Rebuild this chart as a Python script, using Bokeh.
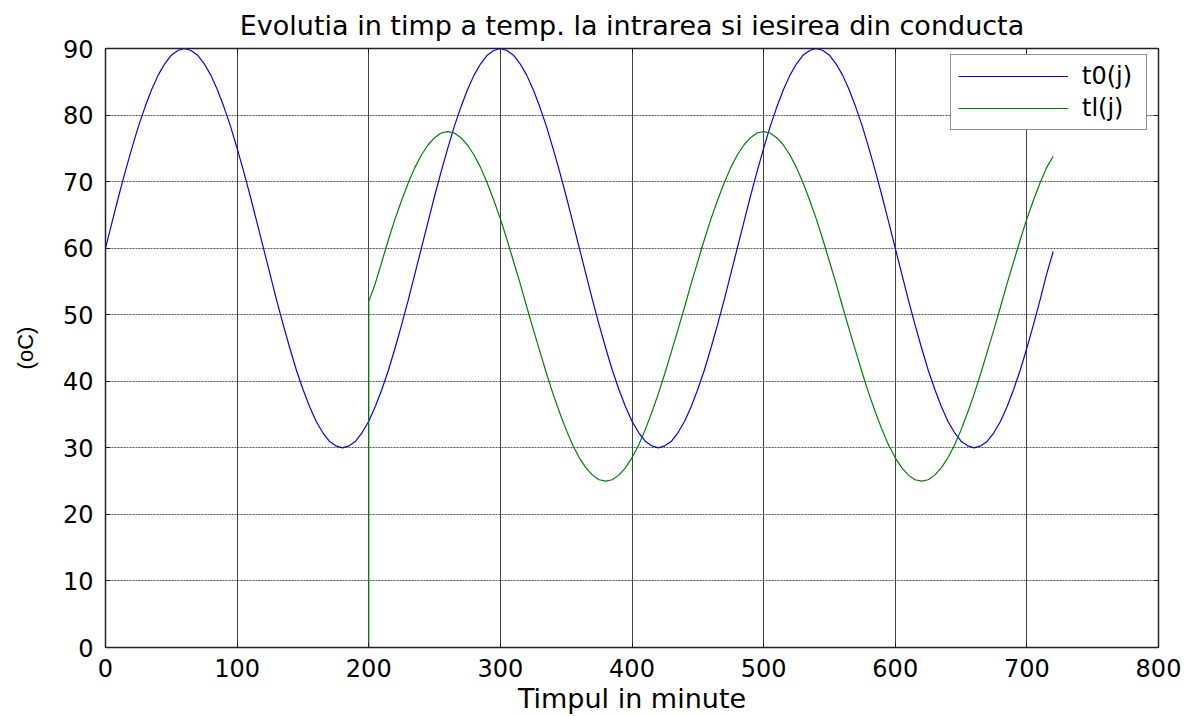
from bokeh.plotting import figure
from bokeh.models import Range1d, LinearAxis, Legend, LegendItem, FixedTicker
from bokeh.embed import file_html
from bokeh.resources import INLINE

# ---- data ----
title_text = "Evolutia in timp a temp. la intrarea si iesirea din conducta"
x_label = "Timpul in minute"
y_label = "(oC)"
x_ticks = [0, 100, 200, 300, 400, 500, 600, 700, 800]
y_ticks = [0, 10, 20, 30, 40, 50, 60, 70, 80, 90]

# inlet temperature t0(j), every 5 minutes from 0 to 720
t0_minutes = list(range(0, 725, 5))
t0_values = [
    # 0 .. 235
    60, 63.9, 67.8, 71.5, 75, 78.3, 81.2, 83.8, 86, 87.7, 89, 89.7,
    90, 89.7, 89, 87.7, 86, 83.8, 81.2, 78.3, 75, 71.5, 67.8, 63.9,
    60, 56.1, 52.2, 48.5, 45, 41.7, 38.8, 36.2, 34, 32.3, 31, 30.3,
    30, 30.3, 31, 32.3, 34, 36.2, 38.8, 41.7, 45, 48.5, 52.2, 56.1,
    # 240 .. 475
    60, 63.9, 67.8, 71.5, 75, 78.3, 81.2, 83.8, 86, 87.7, 89, 89.7,
    90, 89.7, 89, 87.7, 86, 83.8, 81.2, 78.3, 75, 71.5, 67.8, 63.9,
    60, 56.1, 52.2, 48.5, 45, 41.7, 38.8, 36.2, 34, 32.3, 31, 30.3,
    30, 30.3, 31, 32.3, 34, 36.2, 38.8, 41.7, 45, 48.5, 52.2, 56.1,
    # 480 .. 715
    60, 63.9, 67.8, 71.5, 75, 78.3, 81.2, 83.8, 86, 87.7, 89, 89.7,
    90, 89.7, 89, 87.7, 86, 83.8, 81.2, 78.3, 75, 71.5, 67.8, 63.9,
    60, 56.1, 52.2, 48.5, 45, 41.7, 38.8, 36.2, 34, 32.3, 31, 30.3,
    30, 30.3, 31, 32.3, 34, 36.2, 38.8, 41.7, 45, 48.5, 52.2, 56.1,
    # 720
    59.5,
]

# outlet temperature tl(j): zero until minute 200, then every 5 minutes
tl_minutes = [0, 200] + list(range(200, 725, 5))
tl_values = [0, 0] + [
    # 200 .. 435
    52, 54.7, 58.0, 61.3, 64.4, 67.2, 69.8, 72.1, 74.0, 75.5, 76.6, 77.3,
    77.5, 77.3, 76.6, 75.5, 74.0, 72.1, 69.8, 67.2, 64.4, 61.3, 58.0, 54.7,
    51.2, 47.8, 44.5, 41.2, 38.1, 35.3, 32.7, 30.4, 28.5, 27.0, 25.9, 25.2,
    25.0, 25.2, 25.9, 27.0, 28.5, 30.4, 32.7, 35.3, 38.1, 41.2, 44.5, 47.8,
    # 440 .. 675
    51.2, 54.7, 58.0, 61.3, 64.4, 67.2, 69.8, 72.1, 74.0, 75.5, 76.6, 77.3,
    77.5, 77.3, 76.6, 75.5, 74.0, 72.1, 69.8, 67.2, 64.4, 61.3, 58.0, 54.7,
    51.2, 47.8, 44.5, 41.2, 38.1, 35.3, 32.7, 30.4, 28.5, 27.0, 25.9, 25.2,
    25.0, 25.2, 25.9, 27.0, 28.5, 30.4, 32.7, 35.3, 38.1, 41.2, 44.5, 47.8,
    # 680 .. 720
    51.2, 54.7, 58.0, 61.3, 64.4, 67.2, 69.8, 72.1, 73.8,
]

FONT = "DejaVu Sans"

p = figure(width=1197, height=716,
           x_range=Range1d(0, 800), y_range=Range1d(0, 90),
           output_backend="svg", toolbar_location=None,
           min_border_left=105, min_border_right=39,
           min_border_top=47, min_border_bottom=67,
           background_fill_color="white", border_fill_color="white",
           outline_line_color="#222222")

p.title.text = title_text
p.title.align = "center"
p.title.text_font = FONT
p.title.text_font_size = "27px"
p.title.text_font_style = "normal"
p.title.text_color = "black"
p.title.standoff = 15

def style_axis(ax, ticks, show_labels):
    ax.ticker = FixedTicker(ticks=ticks)
    ax.axis_line_color = "#222222"
    ax.axis_line_width = 1.5
    ax.major_tick_in = 5
    ax.major_tick_out = 0
    ax.major_tick_line_color = "#222222"
    ax.minor_tick_line_color = None
    ax.major_label_text_font = FONT
    if show_labels:
        ax.major_label_text_font_size = "24px"
        ax.major_label_text_color = "black"
    else:
        ax.major_label_text_font_size = "1px"
        ax.major_label_text_color = None
        ax.major_label_standoff = 0
    ax.axis_label_text_font = FONT
    ax.axis_label_text_font_style = "normal"
    ax.axis_label_text_color = "black"

xa = p.xaxis[0]
ya = p.yaxis[0]
style_axis(xa, x_ticks, True)
style_axis(ya, y_ticks, True)
xa.axis_label = x_label
xa.axis_label_text_font_size = "27px"
xa.axis_label_standoff = 3
xa.major_label_standoff = 11
ya.axis_label = y_label
ya.axis_label_text_font = "Liberation Sans"
ya.axis_label_text_font_size = "22px"
ya.axis_label_standoff = 22
ya.major_label_standoff = 12

top = LinearAxis()
style_axis(top, x_ticks, False)
p.add_layout(top, "above")
right = LinearAxis()
style_axis(right, y_ticks, False)
p.add_layout(right, "right")

p.xgrid.ticker = FixedTicker(ticks=x_ticks)
p.ygrid.ticker = FixedTicker(ticks=y_ticks)
p.xgrid.grid_line_color = "#444444"
p.xgrid.grid_line_width = 1
p.ygrid.grid_line_color = "#555555"
p.ygrid.grid_line_dash = "2 1"
p.ygrid.grid_line_width = 1

r1 = p.line(t0_minutes, t0_values, line_color="#0000ff", line_width=1.2)
r2 = p.line(tl_minutes, tl_values, line_color="#008000", line_width=1.2)

legend = Legend(items=[LegendItem(label="t0(j)", renderers=[r1]),
                       LegendItem(label="tl(j)", renderers=[r2])],
                location=(845, 517))
legend.border_line_color = "#222222"
legend.border_line_width = 1.5
legend.background_fill_color = "white"
legend.background_fill_alpha = 1
legend.padding = 7
legend.spacing = 4
legend.glyph_width = 110
legend.glyph_height = 22
legend.label_height = 22
legend.label_width = 57
legend.label_standoff = 14
legend.label_text_font = FONT
legend.label_text_font_size = "24px"
legend.label_text_color = "black"
legend.margin = 0
p.add_layout(legend)

open("out.html", "w").write(file_html(p, INLINE))
